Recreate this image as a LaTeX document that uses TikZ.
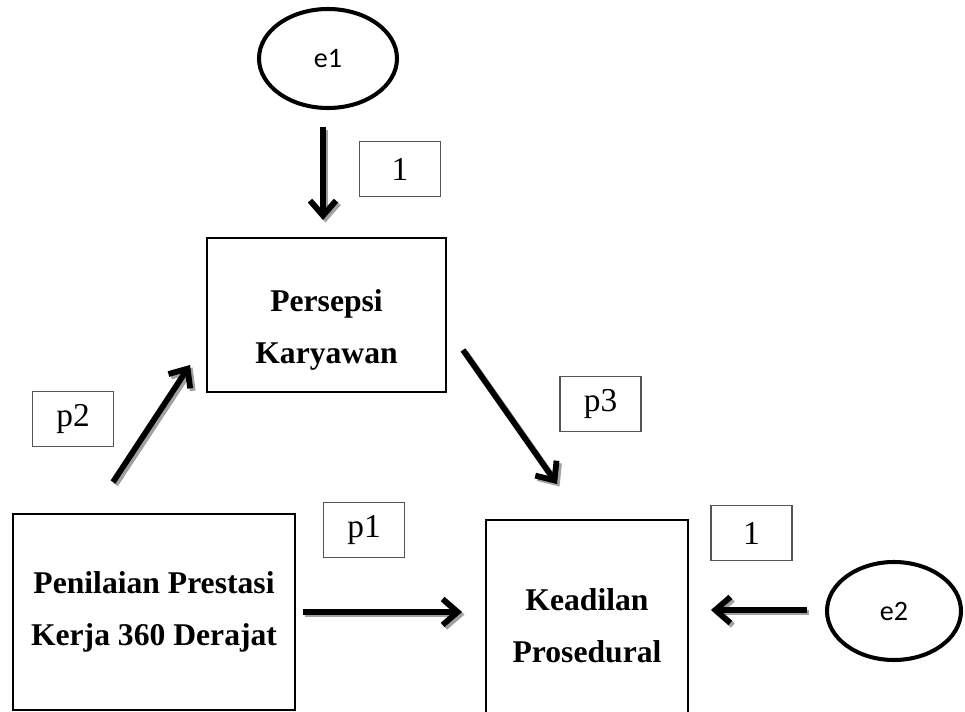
\documentclass[tikz,border=0pt]{standalone}
\usepackage{fontspec}
\setmainfont{Liberation Serif}
\newfontfamily\errfont{Carlito}
\usetikzlibrary{arrows.meta,shapes.geometric}

\definecolor{shade}{HTML}{A0A0A0}
\definecolor{thinline}{HTML}{555555}

\begin{document}
\begin{tikzpicture}[
    var/.style={draw=black, line width=1.1pt, align=center,
                font=\fontsize{18}{30}\selectfont\bfseries, inner sep=0pt},
    err/.style={draw=black, ellipse, line width=2.3pt, inner sep=0pt,
                font=\errfont\fontsize{16}{18}\selectfont},
    coef/.style={draw=thinline, line width=0.6pt, inner sep=0pt,
                 minimum width=1.62cm, minimum height=1.1cm,
                 font=\fontsize{19}{22}\selectfont},
    tip/.style={-{Straight Barb[length=0.3cm, width=0.52cm]}},
    arr/.style={line width=3.3pt, tip},
    arrshade/.style={line width=3.3pt, tip, draw=shade},
]
\useasboundingbox (0,0) rectangle (19.3,14.22);

% Error terms
\node[err, minimum width=2.76cm, minimum height=1.98cm] (e1) at (6.56, 13.05) {e1};
\node[err, minimum width=2.68cm, minimum height=1.96cm] (e2) at (17.88, 2.0) {e2};

% Variables
\node[var, minimum width=4.78cm, minimum height=3.08cm] (pk) at (6.53, 7.92)
    {\rule{0pt}{1.04cm}Persepsi\\Karyawan};
\node[var, minimum width=5.64cm, minimum height=3.92cm] (pp) at (3.08, 1.98)
    {Penilaian Prestasi\\Kerja 360 Derajat};
\node[var, minimum width=4.04cm, minimum height=3.92cm] (kp) at (11.74, 1.86)
    {\rule{0pt}{0.75cm}Keadilan\\Prosedural};

% Path labels
\node[coef] (c1a) at (8.0, 10.84) {1};
\node[coef] (cp1) at (7.28, 3.62) {p1};
\node[coef] (cp2) at (1.46, 5.84) {p2};
\node[coef] (cp3) at (12.01, 6.14) {p3};
\node[coef] (c1b) at (15.03, 3.56) {1};

% Paths (grey shadow first, then the arrow)
\foreach \sty/\dx/\dy in {arrshade/0.05/-0.05, arr/0/0} {
  \begin{scope}[transform canvas={shift={(\dx,\dy)}}]
    \draw[\sty] ([shift={(-0.1,-0.34)}]e1.south) -- ([shift={(-0.07,0.34)}]pk.north);
    \draw[\sty] ([shift={(-0.82,0.62)}]pp.north) -- ([shift={(-0.32,0.56)}]pk.south west);
    \draw[\sty] ([shift={(0.32,0.86)}]pk.south east) -- ([shift={(1.44,0.7)}]kp.north west);
    \draw[\sty] ([shift={(0.14,0)}]pp.east) -- ([shift={(-0.46,0.12)}]kp.west);
    \draw[\sty] ([shift={(-0.36,0.02)}]e2.west) -- ([shift={(0.44,0.16)}]kp.east);
  \end{scope}
}

\end{tikzpicture}
\end{document}
